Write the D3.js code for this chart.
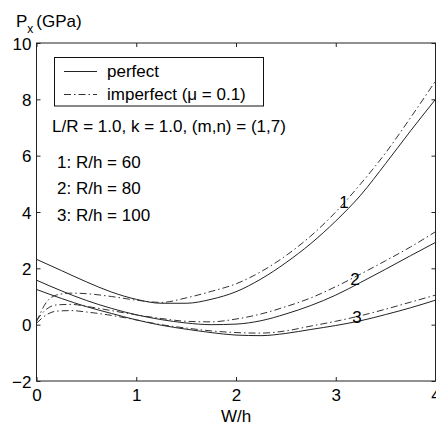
<!DOCTYPE html>
<html>
<head>
<meta charset="utf-8">
<script src="https://cdn.jsdelivr.net/npm/d3@7"></script>
<style>
  html, body { margin: 0; padding: 0; background: #fff; }
  svg { display: block; }
  text { font-family: "Liberation Sans", Arial, Helvetica, sans-serif; fill: #000; }
</style>
</head>
<body>
<svg id="chart" width="436" height="425"></svg>
<script>
// Postbuckling load P_x (GPa) against deflection W/h
const wPerfect = [0, 0.25, 0.5, 0.75, 1.0, 1.25, 1.5, 1.75, 2.0, 2.25, 2.5, 2.75, 3.0, 3.25, 3.5, 3.75, 4.0];
const perfect1 = [2.32, 1.92, 1.52, 1.16, 0.9, 0.76, 0.76, 0.9, 1.17, 1.62, 2.2, 2.88, 3.68, 4.6, 5.72, 6.88, 8.0];
const perfect2 = [1.58, 1.2, 0.86, 0.58, 0.35, 0.18, 0.06, 0.0, 0.02, 0.14, 0.38, 0.68, 1.05, 1.5, 1.97, 2.45, 2.92];
const perfect3 = [1.25, 0.93, 0.64, 0.4, 0.17, -0.02, -0.16, -0.28, -0.37, -0.39, -0.31, -0.17, -0.03, 0.14, 0.36, 0.6, 0.87];

const wImperfect = [0, 0.1, 0.2, 0.35, 0.5, 0.75, 1.0, 1.25, 1.5, 1.75, 2.0, 2.25, 2.5, 2.75, 3.0, 3.25, 3.5, 3.75, 4.0];
const imperfect1 = [0.1, 0.8, 1.05, 1.12, 1.1, 1.0, 0.87, 0.79, 0.95, 1.18, 1.45, 1.88, 2.45, 3.15, 4.0, 5.0, 6.1, 7.35, 8.65];
const imperfect2 = [0.15, 0.55, 0.7, 0.72, 0.65, 0.5, 0.35, 0.22, 0.12, 0.1, 0.2, 0.38, 0.64, 0.95, 1.35, 1.8, 2.27, 2.76, 3.3];
const imperfect3 = [0.05, 0.35, 0.48, 0.5, 0.45, 0.33, 0.17, 0.0, -0.12, -0.22, -0.28, -0.3, -0.22, -0.05, 0.12, 0.32, 0.55, 0.8, 1.05];

const xTicks = [0, 1, 2, 3, 4];
const yTicks = [-2, 0, 2, 4, 6, 8, 10];
const legendLabels = ["perfect", "imperfect (\u03bc = 0.1)"];
const notes = ["L/R = 1.0, k = 1.0, (m,n) = (1,7)", "1: R/h = 60", "2: R/h = 80", "3: R/h = 100"];
const curveLabels = ["1", "2", "3"];

const svg = d3.select("#chart");
const plotLeft = 36.5, plotRight = 435.5, plotTop = 43, plotBottom = 381;

const x = d3.scaleLinear().domain([0, 4]).range([plotLeft, plotRight]);
const y = d3.scaleLinear().domain([-2, 10]).range([plotBottom, plotTop]);

// Curves
const line = d3.line().x(d => x(d[0])).y(d => y(d[1])).curve(d3.curveMonotoneX);
svg.append("clipPath").attr("id", "plotclip")
  .append("rect").attr("x", plotLeft).attr("y", plotTop)
  .attr("width", plotRight - plotLeft).attr("height", plotBottom - plotTop);
const plot = svg.append("g").attr("clip-path", "url(#plotclip)");

const perfectSeries = [perfect1, perfect2, perfect3];
const imperfectSeries = [imperfect1, imperfect2, imperfect3];

perfectSeries.forEach(vals => {
  plot.append("path")
    .attr("d", line(wPerfect.map((w, i) => [w, vals[i]])))
    .attr("fill", "none").attr("stroke", "#222").attr("stroke-width", 1);
});
imperfectSeries.forEach(vals => {
  plot.append("path")
    .attr("d", line(wImperfect.map((w, i) => [w, vals[i]])))
    .attr("fill", "none").attr("stroke", "#333").attr("stroke-width", 1)
    .attr("stroke-dasharray", "7,3,1.5,3");
});

// Axes box with inward ticks
const axisColor = "#222";
svg.append("rect").attr("x", plotLeft).attr("y", plotTop)
  .attr("width", plotRight - plotLeft).attr("height", plotBottom - plotTop)
  .attr("fill", "none").attr("stroke", axisColor).attr("stroke-width", 1);

const tickLen = 4;
const gx = svg.append("g").attr("transform", `translate(0,${plotBottom})`)
  .call(d3.axisBottom(x).tickValues(xTicks).tickSizeInner(-tickLen).tickSizeOuter(0).tickFormat(d3.format("d")));
const gxTop = svg.append("g").attr("transform", `translate(0,${plotTop})`)
  .call(d3.axisTop(x).tickValues(xTicks).tickSizeInner(-tickLen).tickSizeOuter(0).tickFormat(""));
const gy = svg.append("g").attr("transform", `translate(${plotLeft},0)`)
  .call(d3.axisLeft(y).tickValues(yTicks).tickSizeInner(-tickLen).tickSizeOuter(0).tickFormat(d3.format("d")));
const gyRight = svg.append("g").attr("transform", `translate(${plotRight},0)`)
  .call(d3.axisRight(y).tickValues(yTicks).tickSizeInner(-tickLen).tickSizeOuter(0).tickFormat(""));

[gx, gxTop, gy, gyRight].forEach(g => {
  g.select(".domain").remove();
  g.selectAll(".tick line").attr("stroke", axisColor);
  g.selectAll("text").attr("font-size", 17).attr("font-family", "Liberation Sans, Arial, sans-serif").attr("fill", "#000");
});
gx.selectAll(".tick text").attr("dy", null).attr("y", 20);
gy.selectAll(".tick text").attr("dy", "0.36em").attr("x", -5);

// Axis titles
svg.append("text").attr("x", 236).attr("y", 422).attr("text-anchor", "middle").attr("font-size", 17).text("W/h");
const yTitle = svg.append("text").attr("x", 16).attr("y", 27).attr("font-size", 17);
yTitle.append("tspan").text("P");
yTitle.append("tspan").attr("font-size", 12).attr("dy", 6).text("x");
yTitle.append("tspan").attr("dy", -6).attr("dx", 3).text("(GPa)");

// Legend
svg.append("rect").attr("x", 54.5).attr("y", 57.5).attr("width", 209).attr("height", 48.5)
  .attr("fill", "#fff").attr("stroke", "#111").attr("stroke-width", 1);
svg.append("line").attr("x1", 64).attr("x2", 97).attr("y1", 71.5).attr("y2", 71.5)
  .attr("stroke", "#222").attr("stroke-width", 1);
svg.append("line").attr("x1", 64).attr("x2", 97).attr("y1", 94.5).attr("y2", 94.5)
  .attr("stroke", "#333").attr("stroke-width", 1).attr("stroke-dasharray", "7,3,1.5,3");
svg.append("text").attr("x", 107).attr("y", 77).attr("font-size", 17).text(legendLabels[0]);
svg.append("text").attr("x", 107).attr("y", 100).attr("font-size", 17).text(legendLabels[1]);

// Parameter notes
const noteX = [52, 57, 57, 57];
const noteY = [132, 168, 194, 221];
notes.forEach((t, i) => {
  svg.append("text").attr("x", noteX[i]).attr("y", noteY[i]).attr("font-size", 17).text(t);
});

// Curve numbers
const curveLabelPos = [[344, 208], [355, 285], [357, 323]];
curveLabels.forEach((t, i) => {
  svg.append("text").attr("x", curveLabelPos[i][0]).attr("y", curveLabelPos[i][1])
    .attr("text-anchor", "middle").attr("font-size", 17).text(t);
});
</script>
</body>
</html>
